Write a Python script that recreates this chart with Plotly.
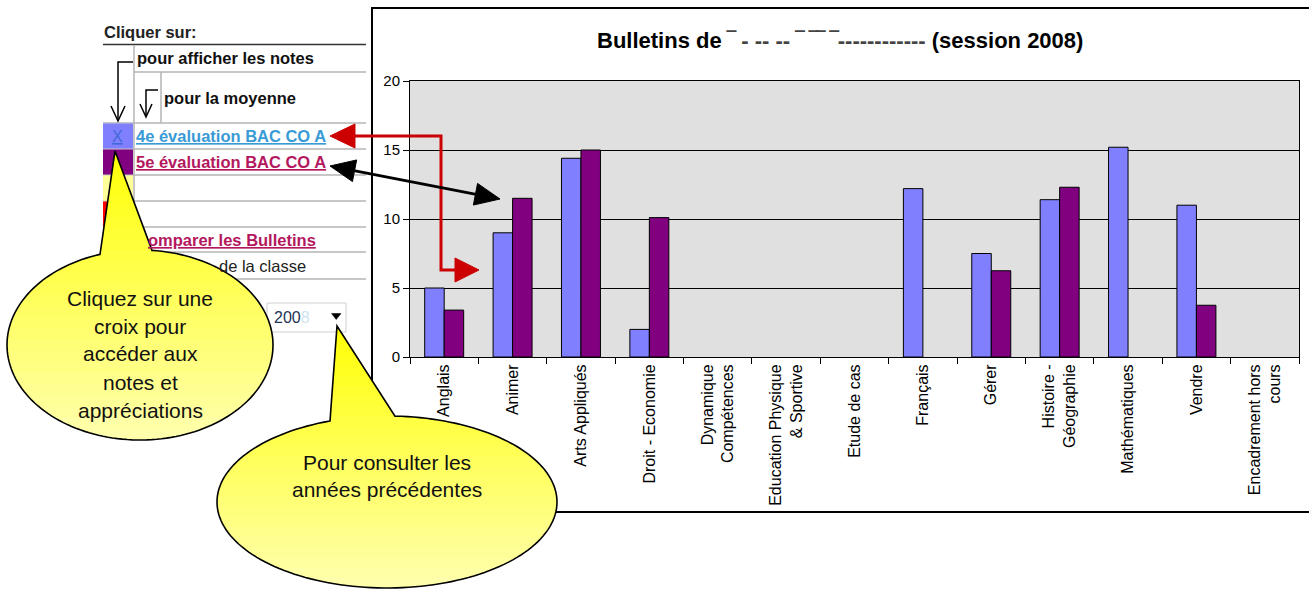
import plotly.graph_objects as go
import numpy as np

W, H = 1309, 594
FONT = "Arial, 'Liberation Sans', sans-serif"

# ---------------- data ----------------
categories = ["Anglais", "Animer", "Arts Appliqués", "Droit - Economie",
              "Dynamique<br>Compétences", "Education Physique<br>& Sportive",
              "Etude de cas", "Français", "Gérer", "Histoire -<br>Géographie",
              "Mathématiques", "Vendre", "Encadrement hors<br>cours"]
eval4 = [5.0, 9.0, 14.4, 2.0, None, None, None, 12.2, 7.5, 11.4, 15.2, 11.0, None]
eval5 = [3.4, 11.5, 15.0, 10.1, None, None, None, None, 6.25, 12.3, None, 3.75, None]
series_names = ["4e évaluation BAC CO A", "5e évaluation BAC CO A"]
y_ticks = [0, 5, 10, 15, 20]
title_text = "Bulletins de <span style='color:#444'>‾ ‐ ‐‐ ‐‐ ‾ ‾‾ ‾‐‐‐‐‐‐‐‐‐‐‐‐</span> (session 2008)"
year_text = "200<span style='color:#cfe3f0'>8</span>"
callout1_lines = ["Cliquez sur une", "croix pour", "accéder aux", "notes et", "appréciations"]
callout2_lines = ["Pour consulter les", "années précédentes"]

# ---------------- helpers (pixel -> paper) ----------------
def px(x):
    return x / W

def py(y):
    return 1 - y / H

shapes = []
annotations = []

def rect(x0, y0, x1, y1, fill="rgba(0,0,0,0)", lc="rgba(0,0,0,0)", lw=0):
    shapes.append(dict(type="rect", xref="paper", yref="paper",
                       x0=px(x0), x1=px(x1), y0=py(y1), y1=py(y0),
                       fillcolor=fill, line=dict(color=lc, width=lw), layer="above"))

def seg(x0, y0, x1, y1, color, w):
    shapes.append(dict(type="line", xref="paper", yref="paper",
                       x0=px(x0), x1=px(x1), y0=py(y0), y1=py(y1),
                       line=dict(color=color, width=w), layer="above"))

def path(pts, closed=False, fill=None, color="black", w=1.0):
    d = "M " + " L ".join(f"{px(x):.6f},{py(y):.6f}" for x, y in pts)
    if closed:
        d += " Z"
    shapes.append(dict(type="path", xref="paper", yref="paper", path=d,
                       fillcolor=fill if fill else "rgba(0,0,0,0)",
                       line=dict(color=color, width=w), layer="above"))

def text(x, y, s, size=16.5, color="#111", xanchor="left", yanchor="middle"):
    annotations.append(dict(x=px(x), y=py(y), xref="paper", yref="paper", text=s,
                            showarrow=False, xanchor=xanchor, yanchor=yanchor,
                            font=dict(size=size, color=color, family=FONT)))

def clip_edge(pts, keep, yc):
    out = []
    n = len(pts)
    for i in range(n):
        cur, prev = pts[i], pts[i - 1]
        cin, pin = keep(cur), keep(prev)
        if cin:
            if not pin:
                t = (yc - prev[1]) / (cur[1] - prev[1])
                out.append((prev[0] + t * (cur[0] - prev[0]), yc))
            out.append(cur)
        elif pin:
            t = (yc - prev[1]) / (cur[1] - prev[1])
            out.append((prev[0] + t * (cur[0] - prev[0]), yc))
    return out

def callout(cx, cy, rx, ry, xl, xr, tip, nb=26):
    tl = np.arccos((xl - cx) / rx)
    tr = np.arccos((xr - cx) / rx)
    th = np.linspace(tl, tr + 2 * np.pi, 160)
    poly = [(cx + rx * np.cos(t), cy - ry * np.sin(t)) for t in th]
    poly.append(tip)
    ys = [p[1] for p in poly]
    ymin, ymax = min(ys), max(ys)
    edges = np.linspace(ymin, ymax, nb + 1)
    for k in range(nb):
        a, b = edges[k] - 0.6, edges[k + 1] + 0.6
        sub = clip_edge(poly, lambda p: p[1] >= a, a)
        if sub:
            sub = clip_edge(sub, lambda p: p[1] <= b, b)
        if len(sub) >= 3:
            t = (k + 0.5) / nb
            col = f"rgb(255,255,{int(5 + 170 * t)})"
            d = "M " + " L ".join(f"{px(x):.6f},{py(y):.6f}" for x, y in sub) + " Z"
            shapes.append(dict(type="path", xref="paper", yref="paper", path=d,
                               fillcolor=col, line=dict(width=0, color=col), layer="above"))
    path(poly, closed=True, color="black", w=1.6)

def tri_head(tip, base_c, half):
    d = np.array(tip) - np.array(base_c)
    d = d / np.linalg.norm(d)
    n = np.array([-d[1], d[0]])
    b1 = np.array(base_c) + n * half
    b2 = np.array(base_c) - n * half
    return [tuple(tip), tuple(b1), tuple(b2)]

# ---------------- figure ----------------
fig = go.Figure()
fig.add_bar(x=categories, y=eval4, name=series_names[0],
            marker=dict(color="#8080FF", line=dict(color="black", width=1)))
fig.add_bar(x=categories, y=eval5, name=series_names[1],
            marker=dict(color="#800080", line=dict(color="black", width=1)))

# chart frame
rect(372, 8, 1315, 512, lc="black", lw=2)

# left panel table
seg(103, 44.5, 366, 44.5, "#333", 1.6)
GRAY = "#b4b4b4"
seg(134, 72, 366, 72, GRAY, 1.5)
for yy in [123, 149, 175]:
    seg(103, yy, 366, yy, GRAY, 1.5)
for yy in [201, 227, 252, 279]:
    seg(103, yy, 366, yy, GRAY, 1.5)
seg(134, 45, 134, 280, GRAY, 1.5)
seg(161, 72, 161, 123, GRAY, 1.5)

rect(103, 123.5, 133, 148.5, fill="#8080FF")
rect(103, 149.5, 133, 174.5, fill="#800080")
rect(103, 175.5, 133, 200.5, fill="#FFFF99")
rect(103, 201.5, 133, 226.5, fill="#FF0000")

text(102, 32, "<b>Cliquer sur:</b>", color="#222")
text(135, 58, "<b>pour afficher les notes</b>", color="#111")
text(162, 98, "<b>pour la moyenne</b>", color="#111")
text(117, 136, "<u>X</u>", size=16, color="#3f68d8", xanchor="center")
text(134, 136, "<b><u>4e évaluation BAC CO A</u></b>", color="#3a9ad6")
text(134, 162, "<b><u>5e évaluation BAC CO A</u></b>", color="#b3185e")
text(146, 240, "<b><u>omparer les Bulletins</u></b>", color="#b3185e")
text(308, 266, "de la classe", color="#222", xanchor="right")

# small bracket arrows
path([(133, 62), (118, 62), (118, 120)], color="black", w=1.5)
path([(111, 106), (118, 121), (125, 106)], color="black", w=1.5)
path([(158, 90), (146, 90), (146, 116)], color="black", w=1.5)
path([(140, 104), (146, 117), (152, 104)], color="black", w=1.5)

# year dropdown
rect(267, 303, 346, 332, fill="white", lc="#d0d0d0", lw=1)
text(272, 317, year_text, size=16, color="#223355")
path([(331.5, 313.5), (341, 313.5), (336.2, 319.5)], closed=True, fill="black", color="black", w=0.5)

# red arrow
RED = "#cc0000"
path([(352, 136), (441, 136), (441, 270), (457, 270)], color=RED, w=3)
path([(330, 136), (355, 124), (355, 148)], closed=True, fill=RED, color=RED, w=1)
path([(479, 270), (455, 258), (455, 282)], closed=True, fill=RED, color=RED, w=1)

# black double arrow
p1 = np.array([330.0, 166.0])
p2 = np.array([500.0, 199.0])
u = (p2 - p1) / np.linalg.norm(p2 - p1)
b1 = p1 + u * 25
b2 = p2 - u * 25
path([tuple(b1 - u * 2), tuple(b2 + u * 2)], color="black", w=3)
path(tri_head(p1, b1, 11), closed=True, fill="black", color="black", w=1)
path(tri_head(p2, b2, 11), closed=True, fill="black", color="black", w=1)

# callouts
callout(140, 345, 133, 95, 100, 152, (115, 151))
callout(387, 502, 170, 86, 330, 395, (337, 326))

for i, s in enumerate(callout1_lines):
    text(140, 298 + i * 28, s, size=21, color="#111", xanchor="center")
for i, s in enumerate(callout2_lines):
    text(387, 462 + i * 27.5, s, size=21, color="#111", xanchor="center")

# title
text(840, 40, "<b>" + title_text + "</b>", size=22, color="black", xanchor="center")

fig.update_layout(
    width=W, height=H,
    margin=dict(l=0, r=0, t=0, b=0, pad=0),
    paper_bgcolor="white", plot_bgcolor="#E0E0E0",
    barmode="group", bargap=0.43, bargroupgap=0,
    showlegend=False,
    shapes=shapes, annotations=annotations,
    font=dict(family=FONT, color="black"),
)
fig.update_xaxes(domain=[410 / W, 1299 / W], type="category", tickangle=-90,
                 tickson="boundaries", ticks="outside", ticklen=6, tickcolor="black",
                 showline=True, linecolor="black", linewidth=1, mirror=True,
                 showgrid=False, tickfont=dict(size=16, family=FONT, color="black"),
                 automargin=False, fixedrange=True)
fig.update_yaxes(domain=[1 - 357 / H, 1 - 81 / H], range=[0, 20], tickmode="array",
                 tickvals=y_ticks, ticks="outside", ticklen=6, tickcolor="black",
                 showline=True, linecolor="black", linewidth=1, mirror=True,
                 showgrid=True, gridcolor="black", gridwidth=1, zeroline=False,
                 tickfont=dict(size=15, family=FONT, color="black"),
                 automargin=False, fixedrange=True)

fig.write_html("out.html")
